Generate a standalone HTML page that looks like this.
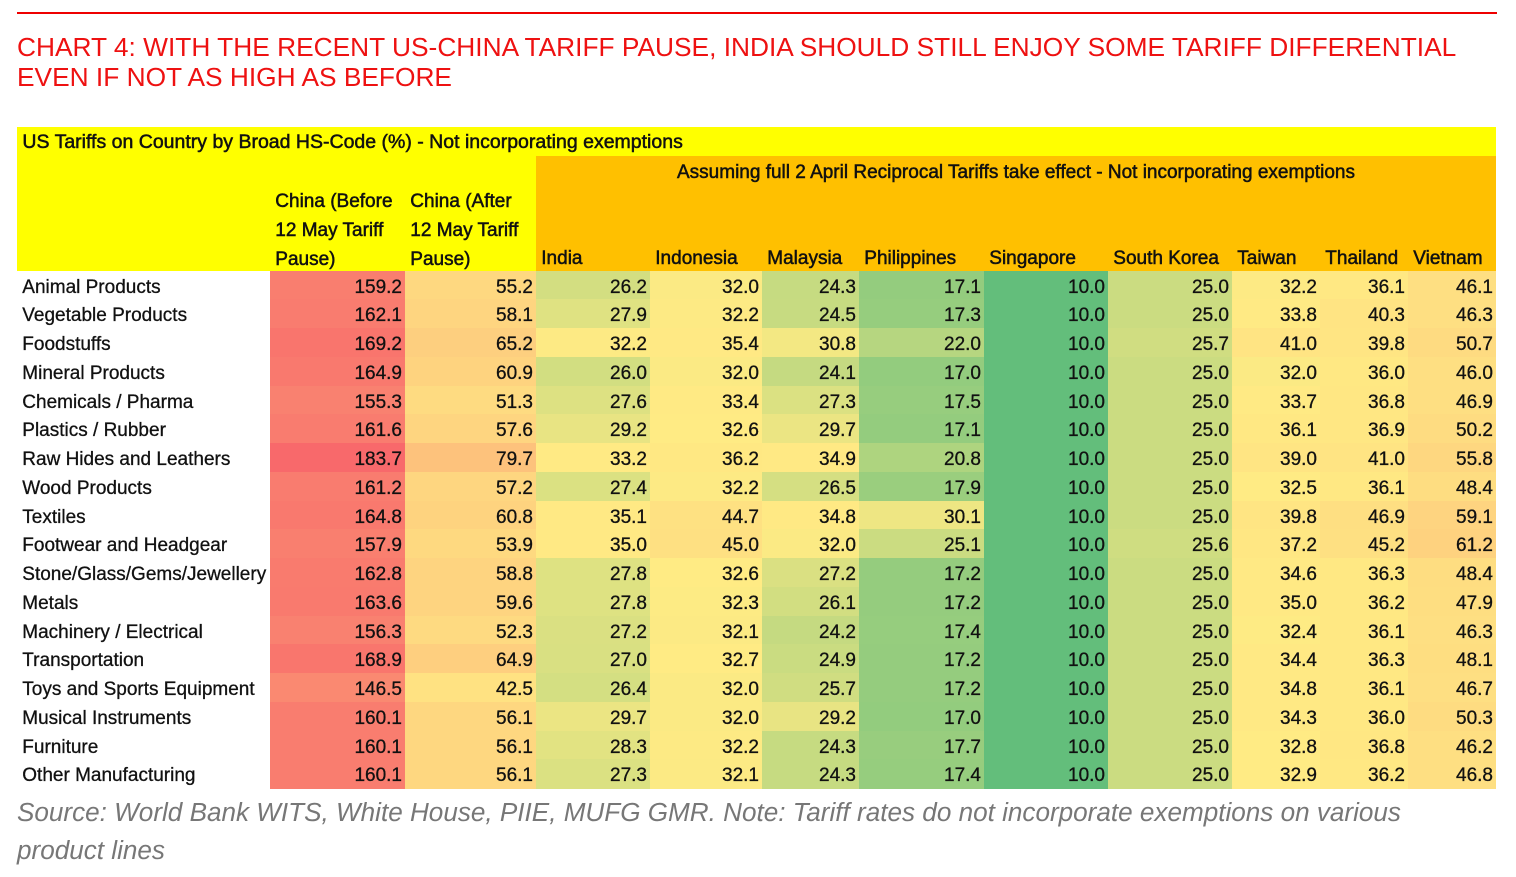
<!DOCTYPE html>
<html><head><meta charset="utf-8">
<style>
body{margin:0;width:1516px;height:877px;background:#fff;position:relative;overflow:hidden;font-family:"Liberation Sans",sans-serif}
#line{position:absolute;left:17px;top:12px;width:1480px;height:2px;background:#e00}
#title{position:absolute;left:17px;top:32px;color:#ee1111;font-size:26.3px;line-height:30px;white-space:nowrap}
#tbl{position:absolute;left:17px;top:127px;width:1479px;height:661px}
.c{position:absolute;font-size:19px;line-height:28.74px;height:28.74px;color:#111;white-space:nowrap;box-sizing:border-box;overflow:visible;-webkit-text-stroke:0.3px #111}
.n{text-align:right;padding-right:3px}
#src{position:absolute;left:17px;top:793px;color:#777;font-style:italic;font-size:26.1px;line-height:38px;width:1480px;white-space:nowrap}
</style></head><body>
<div id="line"></div>
<div id="title">CHART 4: WITH THE RECENT US-CHINA TARIFF PAUSE, INDIA SHOULD STILL ENJOY SOME TARIFF DIFFERENTIAL<br>EVEN IF NOT AS HIGH AS BEFORE</div>
<div id="tbl"></div>
<div id="src">Source: World Bank WITS, White House, PIIE, MUFG GMR. Note: Tariff rates do not incorporate exemptions on various<br>product lines</div>
<script>
var R=28.74;
var xs=[0,253,388,519,633,745,842,967,1091,1215,1303,1391,1479];
var rows=[
["Animal Products",159.2,55.2,26.2,32.0,24.3,17.1,10.0,25.0,32.2,36.1,46.1],
["Vegetable Products",162.1,58.1,27.9,32.2,24.5,17.3,10.0,25.0,33.8,40.3,46.3],
["Foodstuffs",169.2,65.2,32.2,35.4,30.8,22.0,10.0,25.7,41.0,39.8,50.7],
["Mineral Products",164.9,60.9,26.0,32.0,24.1,17.0,10.0,25.0,32.0,36.0,46.0],
["Chemicals / Pharma",155.3,51.3,27.6,33.4,27.3,17.5,10.0,25.0,33.7,36.8,46.9],
["Plastics / Rubber",161.6,57.6,29.2,32.6,29.7,17.1,10.0,25.0,36.1,36.9,50.2],
["Raw Hides and Leathers",183.7,79.7,33.2,36.2,34.9,20.8,10.0,25.0,39.0,41.0,55.8],
["Wood Products",161.2,57.2,27.4,32.2,26.5,17.9,10.0,25.0,32.5,36.1,48.4],
["Textiles",164.8,60.8,35.1,44.7,34.8,30.1,10.0,25.0,39.8,46.9,59.1],
["Footwear and Headgear",157.9,53.9,35.0,45.0,32.0,25.1,10.0,25.6,37.2,45.2,61.2],
["Stone/Glass/Gems/Jewellery",162.8,58.8,27.8,32.6,27.2,17.2,10.0,25.0,34.6,36.3,48.4],
["Metals",163.6,59.6,27.8,32.3,26.1,17.2,10.0,25.0,35.0,36.2,47.9],
["Machinery / Electrical",156.3,52.3,27.2,32.1,24.2,17.4,10.0,25.0,32.4,36.1,46.3],
["Transportation",168.9,64.9,27.0,32.7,24.9,17.2,10.0,25.0,34.4,36.3,48.1],
["Toys and Sports Equipment",146.5,42.5,26.4,32.0,25.7,17.2,10.0,25.0,34.8,36.1,46.7],
["Musical Instruments",160.1,56.1,29.7,32.0,29.2,17.0,10.0,25.0,34.3,36.0,50.3],
["Furniture",160.1,56.1,28.3,32.2,24.3,17.7,10.0,25.0,32.8,36.8,46.2],
["Other Manufacturing",160.1,56.1,27.3,32.1,24.3,17.4,10.0,25.0,32.9,36.2,46.8]];
var all=[];rows.forEach(r=>r.slice(1).forEach(v=>all.push(v)));
all.sort((a,b)=>a-b);
var n=all.length,p=(n-1)*0.5,mid=all[Math.floor(p)]+(all[Math.ceil(p)]-all[Math.floor(p)])*(p-Math.floor(p));
var mn=all[0],mx=all[n-1];
function lerp(a,b,t){return a.map((x,i)=>Math.round(x+(b[i]-x)*t));}
function col(v){var g=[99,190,123],y=[255,235,132],r=[248,105,107],c;
 if(v<=mid)c=lerp(g,y,(v-mn)/(mid-mn));else c=lerp(y,r,(v-mid)/(mx-mid));
 return "rgb("+c.join(",")+")";}
var T=document.getElementById("tbl"),h="";
function cell(x,y,w,hh,bg,txt,cls,extra){h+='<div class="c '+(cls||"")+'" style="left:'+x+'px;top:'+y+'px;width:'+w+'px;height:'+hh+'px;background:'+bg+';'+(extra||"")+'">'+txt+'</div>';}
cell(0,0,1479,R+0.5,"#ffff00","&nbsp;US Tariffs on Country by Broad HS-Code (%) - Not incorporating exemptions","", "font-size:19.5px;-webkit-text-stroke:0.5px #111;padding-top:1px");
cell(0,R,519,4*R+0.5,"#ffff00","");
cell(519,R,960,4*R+0.5,"#ffc000","");
cell(519,R,960,R,"transparent","Assuming full 2 April Reciprocal Tariffs take effect - Not incorporating exemptions","","text-align:center;font-size:19px;padding-top:3px;-webkit-text-stroke:0.5px #111");
cell(253,2*R,135,3*R,"transparent","&nbsp;China (Before<br>&nbsp;12 May Tariff<br>&nbsp;Pause)","","line-height:"+R+"px;padding-top:4px;-webkit-text-stroke:0.5px #111");
cell(388,2*R,131,3*R,"transparent","&nbsp;China (After<br>&nbsp;12 May Tariff<br>&nbsp;Pause)","","line-height:"+R+"px;padding-top:4px;-webkit-text-stroke:0.5px #111");
var names=["India","Indonesia","Malaysia","Philippines","Singapore","South Korea","Taiwan","Thailand","Vietnam"];
names.forEach((nm,i)=>cell(xs[i+3],4*R,xs[i+4]-xs[i+3],R,"transparent","&nbsp;"+nm,"","padding-top:3px;-webkit-text-stroke:0.5px #111"));
rows.forEach((r,j)=>{var y=(5+j)*R;
 cell(0,y,253,R+0.5,"transparent","&nbsp;"+r[0],"","padding-top:3px");
 for(var k=1;k<12;k++)cell(xs[k],y,xs[k+1]-xs[k],R+0.5,col(r[k]),r[k].toFixed(1),"n","padding-top:3px");
});
T.innerHTML=h;
</script>
</body></html>
